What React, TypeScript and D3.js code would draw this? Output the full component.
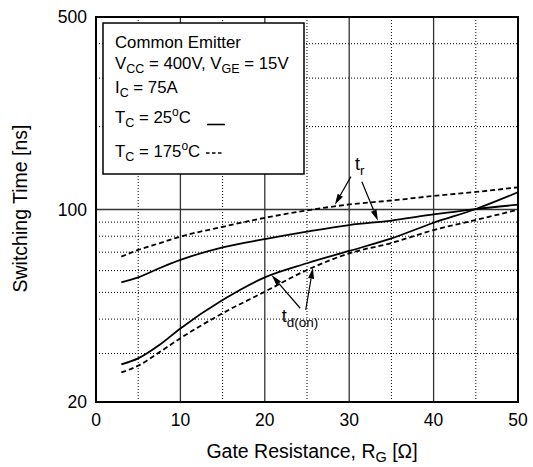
import React from 'react';
import * as d3 from 'd3';

// gate resistance [ohm] sample points
const rg = [3, 5, 7.5, 10, 15, 20, 25, 30, 35, 40, 45, 50];

// switching times [ns]
const tr25 = [54.4, 56.7, 61.2, 65.6, 72.9, 78.1, 83.1, 87.8, 91.2, 96, 100.4, 104.1];
const tr175 = [67.4, 71.3, 75.4, 79.7, 86.5, 93.3, 99.2, 104.3, 107.8, 112, 115.8, 120.4];
const tdon25 = [27.4, 28.8, 32.2, 37.0, 46.9, 56.7, 63.8, 70.7, 78.5, 89.5, 100.4, 115.5];
const tdon175 = [25.6, 27.1, 30.3, 34.1, 42.0, 50.3, 60.3, 69.3, 75.6, 84.2, 91.6, 99.8];

const xTicks = [0, 10, 20, 30, 40, 50];
const xMinor = [5, 15, 25, 35, 45];
const yTicks = [20, 100, 500];
const yMinor = [30, 40, 50, 60, 70, 80, 90, 200, 300, 400];

// annotation arrows: [fromR, fromNs, toR, toNs]
const trArrows = [
  [30.2, 131.6, 28.3, 104],
  [31.5, 126.2, 33.4, 91],
];
const tdArrows = [
  [24.2, 43.8, 20.8, 57.8],
  [24.85, 43.2, 25.7, 61.5],
];

const W = 533;
const H = 467;
const margin = { top: 17, right: 15, bottom: 65, left: 96 };
const FONT = '"Liberation Sans", Arial, Helvetica, sans-serif';

function Arrow({ x1, y1, x2, y2 }: { x1: number; y1: number; x2: number; y2: number }) {
  const ang = Math.atan2(y2 - y1, x2 - x1);
  const len = 11;
  const half = 3;
  const bx = x2 - len * Math.cos(ang);
  const by = y2 - len * Math.sin(ang);
  const px = -Math.sin(ang) * half;
  const py = Math.cos(ang) * half;
  return (
    <g>
      <line x1={x1} y1={y1} x2={bx} y2={by} stroke="#000" strokeWidth={1.2} />
      <polygon points={`${x2},${y2} ${bx + px},${by + py} ${bx - px},${by - py}`} fill="#000" />
    </g>
  );
}

export default function App() {
  const x = d3.scaleLinear().domain([0, 50]).range([margin.left, W - margin.right]);
  const y = d3.scaleLog().domain([20, 500]).range([H - margin.bottom, margin.top]);

  const line = d3
    .line<number>()
    .x((_, i) => x(rg[i]))
    .y(d => y(d))
    .curve(d3.curveMonotoneX);

  const [x0, x1] = x.range();
  const [y0, y1] = y.range();

  const curves = [
    { vals: tr25, dash: undefined },
    { vals: tr175, dash: '5 3' },
    { vals: tdon25, dash: undefined },
    { vals: tdon175, dash: '5 3' },
  ];

  return (
    <svg
      width={W}
      height={H}
      style={{ position: 'absolute', left: 0, top: 0, background: '#fff' }}
      fontFamily={FONT}
    >
      {/* minor grid */}
      {xMinor.map(v => (
        <line key={'xm' + v} x1={x(v)} x2={x(v)} y1={y0} y2={y1} stroke="#000" strokeWidth={1} strokeDasharray="1 2" />
      ))}
      {yMinor.map(v => (
        <line key={'ym' + v} x1={x0} x2={x1} y1={y(v)} y2={y(v)} stroke="#000" strokeWidth={1} strokeDasharray="1 2" />
      ))}
      {/* major grid */}
      {xTicks.slice(1, -1).map(v => (
        <line key={'xg' + v} x1={x(v)} x2={x(v)} y1={y0} y2={y1} stroke="#333" strokeWidth={1.3} />
      ))}
      <line x1={x0} x2={x1} y1={y(100)} y2={y(100)} stroke="#333" strokeWidth={1.3} />

      {/* curves */}
      {curves.map((c, i) => (
        <path key={i} d={line(c.vals) || ''} fill="none" stroke="#000" strokeWidth={1.8} strokeDasharray={c.dash} />
      ))}

      {/* frame */}
      <rect x={x0} y={y1} width={x1 - x0} height={y0 - y1} fill="none" stroke="#000" strokeWidth={2} />

      {/* annotations */}
      {trArrows.map((a, i) => (
        <Arrow key={'ta' + i} x1={x(a[0])} y1={y(a[1])} x2={x(a[2])} y2={y(a[3])} />
      ))}
      {tdArrows.map((a, i) => (
        <Arrow key={'da' + i} x1={x(a[0])} y1={y(a[1])} x2={x(a[2])} y2={y(a[3])} />
      ))}
      <text x={x(30.7)} y={y(139)} fontSize={18}>
        t<tspan fontSize={13.5} dy={5}>r</tspan>
      </text>
      <text x={x(22)} y={y(39.1)} fontSize={18}>
        t<tspan fontSize={13.5} dy={5}>d(on)</tspan>
      </text>

      {/* legend */}
      <rect x={103} y={23} width={201} height={151} fill="#fff" stroke="#000" strokeWidth={1.5} />
      <g fontSize={16.8}>
        <text x={115} y={48}>Common Emitter</text>
        <text x={115} y={68.5}>
          V<tspan fontSize={12.5} dy={4}>CC</tspan>
          <tspan dy={-4}> = 400V, V</tspan>
          <tspan fontSize={12.5} dy={4}>GE</tspan>
          <tspan dy={-4}> = 15V</tspan>
        </text>
        <text x={115} y={93}>
          I<tspan fontSize={12.5} dy={4}>C</tspan>
          <tspan dy={-4}> = 75A</tspan>
        </text>
        <text x={115} y={122.5}>
          T<tspan fontSize={12.5} dy={4}>C</tspan>
          <tspan dy={-4}> = 25</tspan>
          <tspan fontSize={12} dy={-7}>o</tspan>
          <tspan dy={7}>C</tspan>
        </text>
        <line x1={207} x2={225} y1={124.5} y2={124.5} stroke="#000" strokeWidth={1.6} />
        <text x={115} y={156.5}>
          T<tspan fontSize={12.5} dy={4}>C</tspan>
          <tspan dy={-4}> = 175</tspan>
          <tspan fontSize={12} dy={-7}>o</tspan>
          <tspan dy={7}>C</tspan>
        </text>
        <line x1={206} x2={223} y1={153} y2={153} stroke="#000" strokeWidth={1.6} strokeDasharray="3.5 2.5" />
      </g>

      {/* axes labels */}
      {xTicks.map(v => (
        <text key={'xt' + v} x={x(v)} y={426} textAnchor="middle" fontSize={17.5}>
          {v}
        </text>
      ))}
      {yTicks.map(v => (
        <text key={'yt' + v} x={87} y={y(v)} dy="0.36em" textAnchor="end" fontSize={17.5}>
          {v}
        </text>
      ))}
      <text x={(x0 + x1) / 2 + 5} y={458} textAnchor="middle" fontSize={19.5}>
        Gate Resistance, R<tspan fontSize={14.5} dy={4}>G</tspan>
        <tspan dy={-4}> [Ω]</tspan>
      </text>
      <text
        transform={`translate(27,${(y0 + y1) / 2 - 1}) rotate(-90)`}
        textAnchor="middle"
        fontSize={19.5}
      >
        Switching Time [ns]
      </text>
    </svg>
  );
}
